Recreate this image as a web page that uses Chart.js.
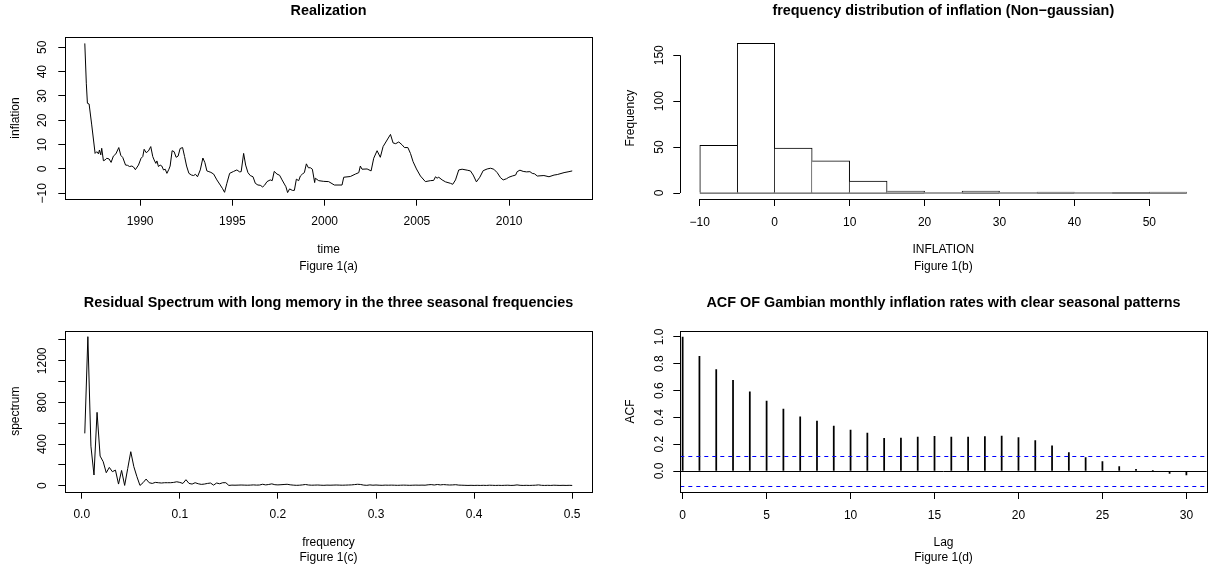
<!DOCTYPE html>
<html>
<head>
<meta charset="utf-8">
<title>Gambian inflation - Figure 1</title>
<script src="https://cdn.jsdelivr.net/npm/chart.js@4.4.1/dist/chart.umd.min.js"></script>
<style>
  html, body { margin: 0; padding: 0; background: #fff; }
  body { width: 1222px; height: 571px; position: relative; overflow: hidden; }
  .panel { position: absolute; }
  .panel canvas { display: block; }
</style>
</head>
<body>
<div class="panel" style="left:0;top:0"><canvas id="realization" width="611" height="286"></canvas></div>
<div class="panel" style="left:615px;top:0"><canvas id="histogram" width="607" height="286"></canvas></div>
<div class="panel" style="left:0;top:293px"><canvas id="spectrum" width="611" height="278"></canvas></div>
<div class="panel" style="left:615px;top:293px"><canvas id="acf" width="607" height="278"></canvas></div>
<script>
// ---- Figure 1(a): monthly inflation, months counted from Jan 1987 ----
const startYear = 1987;
const inflMonth = [0, 1, 1.7, 2.8, 4.5, 6.7, 7.8, 8.9, 9.5, 10.4, 11, 12.1, 13.2, 14.3, 15.8, 17.1, 18.6, 20.2,
  22.1, 23.4, 24.7, 26.5, 27.8, 29.1, 30.6, 31.7, 32.9, 34.9, 36.6, 37.7, 38.6, 39.9, 41.4, 42.9, 44.2,
  45.1, 46.2, 46.9, 47.9, 49, 50.1, 51.2, 52.3, 53.4, 54.7, 55.5, 56.8, 58.1, 59.4, 60.7, 62, 63.6, 64.9,
  66.2, 67.7, 69.4, 70.7, 72, 73.3, 75.1, 76.8, 78.1, 79.4, 80.7, 82, 83.8, 85.9, 88.1, 89.6, 90.9, 92.4,
  94.2, 96.8, 98.9, 100.7, 101.7, 103.3, 104.6, 106.1, 107.6, 109.4, 110.9, 112.6, 114.1, 115.7, 116.9,
  118.5, 120.6, 121.9, 123.2, 125, 126.7, 128.3, 129.8, 130.8, 131.9, 133.2, 135, 136.3, 137.6, 139.1,
  140.2, 141.5, 142.8, 144.1, 145.4, 146.7, 148, 149.5, 149.9, 152.1, 155.4, 158.6, 162.3, 167.3, 168.4,
  172.7, 176, 178.2, 179.2, 180.3, 183.6, 186.2, 187.9, 190.1, 192.2, 194, 196.6, 198.8, 200.5, 202.2,
  204.2, 206.4, 207.9, 210.1, 211.8, 213.5, 215.7, 218.3, 221.5, 224.8, 226.9, 228.1, 229.1, 230.2,
  232.4, 234.6, 237.8, 239.3, 241.1, 243.2, 245.4, 248.7, 250.8, 252.6, 254.7, 256.9, 259.1, 261.7,
  263.9, 266, 268.2, 270.4, 272.1, 274.3, 275.8, 278, 280.2, 281.2, 283, 285.1, 287.3, 289.5, 291,
  292.5, 294.3, 298.6, 301.9, 305.2, 307.3, 311.7, 314.9, 317];
const inflValue = [51.6, 35, 27, 26.7, 18.1, 6.4, 7.1, 6.2, 7.8, 5.8, 8.5, 3.4, 3.7, 4.4, 4.1, 2.7, 5.3, 6.2,
  8.8, 5.6, 4.7, 1.6, 1.5, 1, 1.2, 0.8, -0.3, 1.6, 4.4, 5.1, 8.1, 6.7, 7.4, 9.2, 5.1,
  3.7, 2.3, 3.3, 1, 1.6, 1.2, -0.4, -0.1, -1.8, -0.1, 1.2, 7.5, 7.1, 4.8, 5.3, 8.4, 8.8, 5.1,
  1.2, -1.8, -2.5, -2.7, -2.2, -3.2, -0.4, 4.5, 2.6, -0.8, -1.1, -1.4, -2.1, -4.5, -6.6, -8.1, -9.6, -5.9,
  -1.8, -1, -0.4, -1.2, -1.1, 6.4, 1.6, -1.5, -2.7, -3.2, -5.9, -6.6, -6.7, -7.4, -6.7,
  -5.2, -4.5, -4.8, -1, -2.1, -2.6, -4.5, -6.2, -7.3, -9.7, -8.2, -8.8, -8.8, -4.2, -4.8,
  -2.9, -2.1, -1.5, 2.1, 0.5, 0.5, -0.1, -5.6, -3.8, -4.8, -5.1, -5.2, -6.6, -6.6, -3.4,
  -3.1, -2.1, -1.5, 1.2, -0.1, 0, -0.8, 4.4, 7.5, 4.8, 9.2, 11.9, 14.2, 10.7, 10.4,
  11.1, 9.9, 8.8, 8.8, 6.4, 3, 0, -2.9, -5.2, -4.8, -4.7, -3.2, -3.8, -3.4,
  -4.5, -5.3, -5.9, -6.3, -4.5, -0.4, -0.1, -0.5, -0.8, -2.5, -5.3, -3.4, -0.7, 0,
  0.3, -0.1, -1.5, -3.6, -4.5, -4, -3.4, -2.9, -2.5, -1.1, -0.5, -1, -1.2, -1.1, -1.8,
  -2, -2.9, -2.7, -3.2, -2.5, -2.3, -1.5, -1.1, -0.8];
const timeTicks = [1990, 1995, 2000, 2005, 2010];
const inflTicks = [-10, 0, 10, 20, 30, 40, 50];

// ---- Figure 1(b): histogram of inflation ----
const binEdges = [-10, -5, 0, 5, 10, 15, 20, 25, 30, 35, 40, 45, 50, 55];
const binCounts = [52, 163, 49, 35, 13, 2, 0, 2, 0, 1, 0, 0, 1];
const histTicksX = [-10, 0, 10, 20, 30, 40, 50];
const histTicksY = [0, 50, 100, 150];

// ---- Figure 1(c): periodogram, frequency k/320 ----
const spectrumN = 320;
const spectrum = [503, 1432, 380, 103, 705, 285, 231, 125, 176, 135, 150, 16, 147, 3, 165, 327, 183, 87, 3, 29,
  64, 29, 22, 32, 29, 26, 29, 29, 29, 32, 38, 32, 22, 58, 22, 16, 29, 19, 13, 16,
  22, 26, 6, 26, 19, 29, 29, 3, 6, 5, 6, 7, 6, 5, 6, 8, 6, 7, 14, 8,
  12, 18, 10, 8, 10, 12, 14, 9, 6, 4, 5, 8, 12, 7, 5, 6, 7, 5, 4, 6,
  5, 6, 7, 6, 5, 6, 7, 8, 11, 14, 12, 6, 4, 8, 5, 7, 5, 4, 6, 5,
  6, 5, 4, 5, 6, 5, 4, 5, 6, 5, 6, 5, 9, 11, 7, 12, 8, 11, 9, 7,
  8, 10, 6, 5, 4, 3, 4, 3, 4, 3, 4, 3, 5, 4, 3, 4, 3, 4, 5, 3,
  4, 8, 4, 3, 4, 3, 4, 5, 8, 4, 3, 4, 3, 5, 4, 3, 4, 3, 4, 3];
const freqTicks = [0, 0.1, 0.2, 0.3, 0.4, 0.5];
const specTicks = [0, 200, 400, 600, 800, 1000, 1200, 1400];
const specLabelled = [0, 400, 800, 1200];

// ---- Figure 1(d): autocorrelation ----
const acfLags = [0, 1, 2, 3, 4, 5, 6, 7, 8, 9, 10, 11, 12, 13, 14, 15, 16, 17, 18, 19, 20,
  21, 22, 23, 24, 25, 26, 27, 28, 29, 30];
const acfValues = [1, 0.856, 0.757, 0.677, 0.591, 0.521, 0.462, 0.404, 0.372, 0.335, 0.305,
  0.283, 0.243, 0.246, 0.253, 0.258, 0.253, 0.253, 0.256, 0.261, 0.25,
  0.227, 0.188, 0.138, 0.1, 0.07, 0.034, 0.013, 0.003, -0.017, -0.03];
const ciLevel = 0.11;
const lagTicks = [0, 5, 10, 15, 20, 25, 30];
const acfTicks = [0, 0.2, 0.4, 0.6, 0.8, 1];

Chart.defaults.font.family = "'Liberation Sans', Arial, Helvetica, sans-serif";
Chart.defaults.font.size = 12;
Chart.defaults.color = '#000';

const minusFmt = v => (v < 0 ? '\u2212' + Math.abs(v) : String(v));
const fixed1 = v => v.toFixed(1);

// frame round the plot region, like R's box()
const framePlugin = {
  id: 'frame',
  afterDraw(chart) {
    const a = chart.chartArea, ctx = chart.ctx;
    ctx.save();
    ctx.strokeStyle = '#000';
    ctx.lineWidth = 1;
    ctx.strokeRect(Math.round(a.left) + 0.5, Math.round(a.top) + 0.5,
      Math.round(a.right) - Math.round(a.left), Math.round(a.bottom) - Math.round(a.top));
    ctx.restore();
  }
};

// histogram axes only span the first..last tick
const histAxesPlugin = {
  id: 'histAxes',
  afterDraw(chart) {
    const { ctx, chartArea: a, scales: { x, y } } = chart;
    const ax = Math.round(a.left) + 0.5, ay = Math.round(a.bottom) + 0.5;
    ctx.save();
    ctx.strokeStyle = '#000';
    ctx.lineWidth = 1;
    ctx.beginPath();
    ctx.moveTo(ax, y.getPixelForValue(histTicksY[0]));
    ctx.lineTo(ax, y.getPixelForValue(histTicksY[histTicksY.length - 1]));
    ctx.moveTo(x.getPixelForValue(histTicksX[0]), ay);
    ctx.lineTo(x.getPixelForValue(histTicksX[histTicksX.length - 1]), ay);
    ctx.stroke();
    ctx.restore();
  }
};

// zero line and confidence bands of the acf plot
const acfLinesPlugin = {
  id: 'acfLines',
  afterDatasetsDraw(chart) {
    const { ctx, chartArea: a, scales: { y } } = chart;
    ctx.save();
    ctx.lineWidth = 1;
    ctx.strokeStyle = '#000';
    let py = Math.round(y.getPixelForValue(0)) + 0.5;
    ctx.beginPath(); ctx.moveTo(a.left, py); ctx.lineTo(a.right, py); ctx.stroke();
    ctx.strokeStyle = '#0000ff';
    ctx.setLineDash([4, 4]);
    [ciLevel, -ciLevel].forEach(c => {
      py = Math.round(y.getPixelForValue(c)) + 0.5;
      ctx.beginPath(); ctx.moveTo(a.left, py); ctx.lineTo(a.right, py); ctx.stroke();
    });
    ctx.restore();
  }
};

function panelOptions(p) {
  return {
    responsive: false,
    animation: false,
    events: [],
    layout: { padding: { left: 0, right: p.padRight, top: 0, bottom: 0 } },
    plugins: {
      legend: { display: false },
      tooltip: { enabled: false },
      title: {
        display: true,
        text: p.title,
        fullSize: false,
        color: '#000',
        font: { size: 14.4, weight: 'bold', lineHeight: 1.2 },
        padding: { top: p.titleTop, bottom: p.plotTop - p.titleTop - 17.28 }
      }
    },
    scales: {
      x: {
        type: 'linear',
        min: p.xMin,
        max: p.xMax,
        offset: false,
        afterBuildTicks: s => { s.ticks = p.xTicks.map(v => ({ value: v })); },
        afterFit: s => { s.height = p.xAxisH; },
        ticks: { autoSkip: false, minRotation: 0, maxRotation: 0, padding: 9, callback: p.xFmt },
        grid: { drawOnChartArea: false, offset: false, tickLength: 7, color: '#000' },
        border: { display: false },
        title: {
          display: true,
          text: p.xTitle,
          font: { size: 12, lineHeight: p.xLineH },
          padding: { top: 0, bottom: p.xTitlePad }
        }
      },
      y: {
        type: 'linear',
        min: p.yMin,
        max: p.yMax,
        afterBuildTicks: s => { s.ticks = p.yTicks.map(v => ({ value: v })); },
        afterFit: s => { s.width = 65.3; },
        ticks: { autoSkip: false, minRotation: 90, maxRotation: 90, crossAlign: 'center', padding: p.yPad, callback: p.yFmt },
        grid: { drawOnChartArea: false, tickLength: 7, color: '#000' },
        border: { display: false },
        title: { display: true, text: p.yTitle, font: { size: 12 }, padding: { top: 8.3, bottom: 0 } }
      }
    }
  };
}

// Figure 1(a)
new Chart(document.getElementById('realization'), {
  type: 'line',
  data: {
    datasets: [{
      data: inflMonth.map((m, i) => ({ x: startYear + m / 12, y: inflValue[i] })),
      borderColor: '#000',
      borderWidth: 1,
      pointRadius: 0,
      tension: 0
    }]
  },
  options: panelOptions({
    title: 'Realization', titleTop: 2.2, plotTop: 37.3, padRight: 19.3, xAxisH: 87.3,
    xMin: 1985.943, xMax: 2014.473, xTicks: timeTicks, xFmt: v => String(v),
    xTitle: ['time', 'Figure 1(a)'], xLineH: 16.5 / 12, xTitlePad: 11.5,
    yMin: -12.22, yMax: 54.11, yTicks: inflTicks, yFmt: minusFmt, yPad: 5, yTitle: 'inflation'
  }),
  plugins: [framePlugin]
});

// Figure 1(b): a shared edge between two bins is drawn once, by the taller bar
new Chart(document.getElementById('histogram'), {
  type: 'bar',
  data: {
    datasets: [{
      data: binCounts.map((c, i) => ({ x: (binEdges[i] + binEdges[i + 1]) / 2, y: c })),
      backgroundColor: '#fff',
      borderColor: '#000',
      borderWidth: ctx => {
        const i = ctx.dataIndex, c = binCounts[i];
        const prev = i > 0 ? binCounts[i - 1] : -1;
        const next = i < binCounts.length - 1 ? binCounts[i + 1] : -1;
        return { top: 1, bottom: 0, left: prev > c ? 0 : 1, right: next >= c ? 0 : 1 };
      },
      borderSkipped: false,
      barPercentage: 1,
      categoryPercentage: 1,
      grouped: false
    }, {
      type: 'line',
      data: [{ x: binEdges[0], y: 0 }, { x: binEdges[binEdges.length - 1], y: 0 }],
      borderColor: '#000',
      borderWidth: 1,
      pointRadius: 0
    }]
  },
  options: panelOptions({
    title: 'frequency distribution of inflation (Non\u2212gaussian)', titleTop: 2.2, plotTop: 37.3,
    padRight: 15.7, xAxisH: 87,
    xMin: -12.6, xMax: 57.6, xTicks: histTicksX, xFmt: minusFmt,
    xTitle: ['INFLATION', 'Figure 1(b)'], xLineH: 16.5 / 12, xTitlePad: 11.5,
    yMin: -6.52, yMax: 169.52, yTicks: histTicksY, yFmt: v => String(v), yPad: 4, yTitle: 'Frequency'
  }),
  plugins: [histAxesPlugin]
});

// Figure 1(c)
new Chart(document.getElementById('spectrum'), {
  type: 'line',
  data: {
    datasets: [{
      data: spectrum.map((s, i) => ({ x: (i + 1) / spectrumN, y: s })),
      borderColor: '#000',
      borderWidth: 1,
      pointRadius: 0,
      tension: 0
    }]
  },
  options: panelOptions({
    title: 'Residual Spectrum with long memory in the three seasonal frequencies', titleTop: 1.2,
    plotTop: 37.7, padRight: 19.3, xAxisH: 79.3,
    xMin: -0.01675, xMax: 0.519875, xTicks: freqTicks, xFmt: fixed1,
    xTitle: ['frequency', 'Figure 1(c)'], xLineH: 1.2, xTitlePad: 6.5,
    yMin: -57.3, yMax: 1489.3, yTicks: specTicks,
    yFmt: v => (specLabelled.includes(v) ? String(v) : ''), yPad: 2, yTitle: 'spectrum'
  }),
  plugins: [framePlugin]
});

// Figure 1(d)
new Chart(document.getElementById('acf'), {
  type: 'bar',
  data: {
    datasets: [{
      data: acfLags.map((l, i) => ({ x: l, y: acfValues[i] })),
      backgroundColor: '#000',
      borderWidth: 0,
      barThickness: 1.1,
      grouped: false
    }]
  },
  options: panelOptions({
    title: 'ACF OF Gambian monthly inflation rates with clear seasonal patterns', titleTop: 1.2,
    plotTop: 38, padRight: 15.3, xAxisH: 79,
    xMin: -0.14, xMax: 31.21, xTicks: lagTicks, xFmt: v => String(v),
    xTitle: ['Lag', 'Figure 1(d)'], xLineH: 1.25, xTitlePad: 6,
    yMin: -0.1565, yMax: 1.0445, yTicks: acfTicks, yFmt: fixed1, yPad: 5.6, yTitle: 'ACF'
  }),
  plugins: [acfLinesPlugin, framePlugin]
});
</script>
</body>
</html>
